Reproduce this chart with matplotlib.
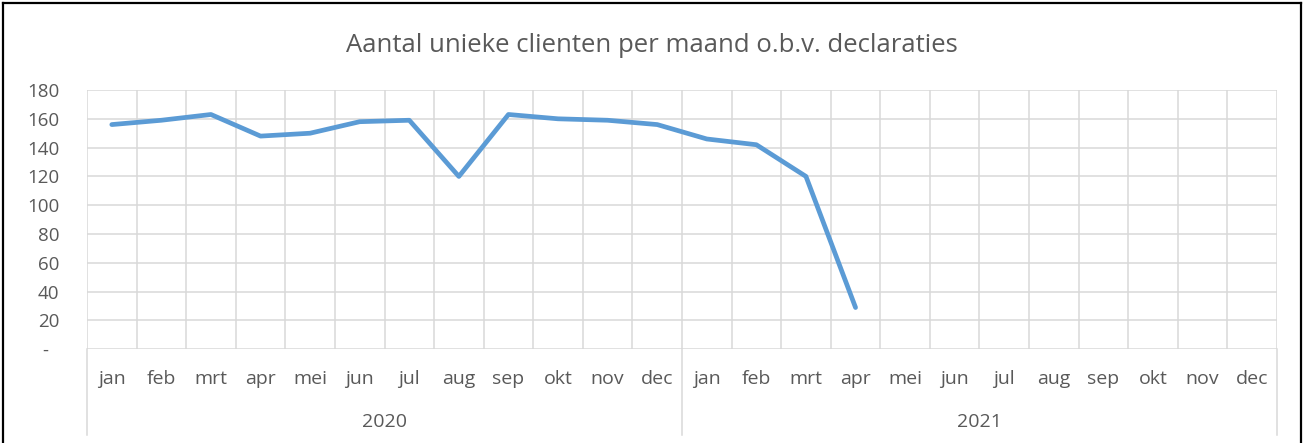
import matplotlib
matplotlib.use("Agg")
import matplotlib.pyplot as plt
from matplotlib.lines import Line2D
import matplotlib.transforms as mtransforms

months = ["jan", "feb", "mrt", "apr", "mei", "jun", "jul", "aug", "sep", "okt", "nov", "dec"]
years = ["2020", "2021"]
values = [156, 159, 163, 148, 150, 158, 159, 120, 163, 160, 159, 156,
          146, 142, 120, 29]
yticks = [0, 20, 40, 60, 80, 100, 120, 140, 160, 180]
title = "Aantal unieke clienten per maand o.b.v. declaraties"

txt = "#595959"
grid = "#D9D9D9"
plt.rcParams['font.family'] = ['Open Sans', 'DejaVu Sans']

fig = plt.figure(figsize=(13.04, 4.43), dpi=100)
ax = fig.add_axes([87/1304, 1-349.3/443, (1277-87)/1304, (349.3-90)/443])

labels = months * len(years)
n = len(labels)
ax.plot(range(len(values)), values, color="#5B9BD5", lw=3.4, solid_capstyle="round",
        solid_joinstyle="round", zorder=3)

ax.set_xlim(-0.5, n - 0.5)
ax.set_ylim(0, 180)
ax.set_yticks(yticks)
ax.set_yticklabels(["-  "] + [str(v) for v in yticks[1:]], color=txt, fontsize=13.5)
for y in yticks:
    ax.axhline(y, color=grid, lw=1.1, zorder=1)
for i in range(n + 1):
    ax.axvline(i - 0.5, color=grid, lw=1.1, zorder=1)
ax.set_xticks(range(n))
ax.set_xticklabels(labels, color=txt, fontsize=14)
ax.tick_params(length=0)
ax.tick_params(axis='x', pad=15)
ax.tick_params(axis='y', pad=20)
for s in ax.spines.values():
    s.set_visible(False)

trans = mtransforms.blended_transform_factory(ax.transData, ax.transAxes)
for k, yr in enumerate(years):
    ax.text(k * 12 + 5.5, -0.28, yr, transform=trans, ha="center", va="center",
            color=txt, fontsize=14)
for k in range(len(years) + 1):
    ax.add_line(Line2D([k * 12 - 0.5, k * 12 - 0.5], [0, -0.33], transform=trans,
                       color=grid, lw=1.1, clip_on=False))

fig.text(0.5, 1 - 45/443, title, ha="center", va="center", color=txt, fontsize=18.5)

for xs, ys in [([3/1304, 3/1304], [0, 1 - 3/443]),
               ([3/1304, 1301/1304], [1 - 3/443, 1 - 3/443]),
               ([1301/1304, 1301/1304], [1 - 3/443, 0])]:
    fig.add_artist(Line2D(xs, ys, color="black", lw=1.6))

fig.savefig("out.png", dpi=100)
